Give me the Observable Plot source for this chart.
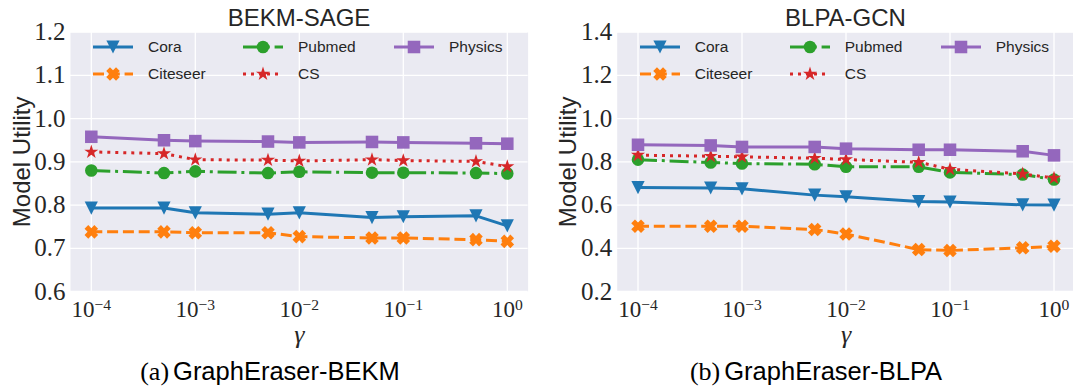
<!DOCTYPE html>
<html>
<head>
<meta charset="utf-8">
<script src="https://cdn.jsdelivr.net/npm/d3@7"></script>
<script src="https://cdn.jsdelivr.net/npm/@observablehq/plot@0.6"></script>
<style>
  html, body { margin: 0; padding: 0; background: #fff; }
  #fig { position: relative; width: 1073px; height: 390px; overflow: hidden; background: #fff; }
  .title { position: absolute; top: 3px; height: 30px; line-height: 30px; font-family: "Liberation Sans", Arial, sans-serif; font-size: 24px; color: #262626; text-align: center; white-space: nowrap; }
  .panel { position: absolute; top: 30px; }
  .caption { position: absolute; top: 356px; height: 30px; line-height: 30px; text-align: center; white-space: nowrap; color: #000; }
  .caption .ser { font-family: "Liberation Serif", serif; font-size: 26px; }
  .caption .san { font-family: "Liberation Sans", sans-serif; font-size: 25.5px; }
  .leg { position: absolute; height: 20px; display: flex; align-items: center; font-family: "Liberation Sans", sans-serif; font-size: 15.5px; color: #262626; white-space: nowrap; }
  .leg svg { display: block; margin-right: 15px; overflow: visible; }
</style>
</head>
<body>
<div id="fig"></div>
<script>
// ---------- data ----------
const gammas = [1e-4, 5e-4, 1e-3, 5e-3, 1e-2, 5e-2, 1e-1, 5e-1, 1];
const xTicks = [1e-4, 1e-3, 1e-2, 1e-1, 1];

const seriesNames = ["Cora", "Citeseer", "Pubmed", "CS", "Physics"];

// (a) BEKM-SAGE
const bekmCora     = [0.793, 0.793, 0.782, 0.779, 0.782, 0.771, 0.773, 0.775, 0.752];
const bekmCiteseer = [0.738, 0.738, 0.736, 0.736, 0.727, 0.724, 0.724, 0.720, 0.716];
const bekmPubmed   = [0.880, 0.874, 0.878, 0.874, 0.877, 0.875, 0.875, 0.874, 0.873];
const bekmCS       = [0.923, 0.919, 0.905, 0.904, 0.902, 0.905, 0.903, 0.901, 0.889];
const bekmPhysics  = [0.958, 0.950, 0.948, 0.947, 0.945, 0.946, 0.945, 0.943, 0.942];
const bekmYTicks   = [0.6, 0.7, 0.8, 0.9, 1.0, 1.1, 1.2];

// (b) BLPA-GCN
const blpaCora     = [0.681, 0.679, 0.675, 0.646, 0.638, 0.616, 0.614, 0.601, 0.600];
const blpaCiteseer = [0.502, 0.502, 0.502, 0.487, 0.466, 0.394, 0.390, 0.402, 0.409];
const blpaPubmed   = [0.810, 0.797, 0.792, 0.789, 0.777, 0.777, 0.751, 0.741, 0.718];
const blpaCS       = [0.831, 0.826, 0.823, 0.817, 0.811, 0.798, 0.766, 0.744, 0.725];
const blpaPhysics  = [0.879, 0.876, 0.869, 0.869, 0.861, 0.856, 0.856, 0.849, 0.830];
const blpaYTicks   = [0.2, 0.4, 0.6, 0.8, 1.0, 1.2, 1.4];

// ---------- styles ----------
const colors = ["#1f77b4", "#ff7f0e", "#2ca02c", "#d62728", "#9467bd"];
const dashes = [null, "11,4.8", "19,4.8,3,4.8", "3,5", null];
const SERIF = '"Liberation Serif", serif';
const SANS = '"Liberation Sans", sans-serif';

function rOf(size) { return Math.sqrt(size / Math.PI); }
const symTriDown = { draw(c, size) { const r = rOf(size); c.moveTo(0, r); c.lineTo(-r, -r); c.lineTo(r, -r); c.closePath(); } };
const symX = { draw(c, size) {
  const r = rOf(size), L = r * 1.05, w = r * 0.4;
  const pts = [[-w,-L],[w,-L],[w,-w],[L,-w],[L,w],[w,w],[w,L],[-w,L],[-w,w],[-L,w],[-L,-w],[-w,-w]];
  const a = Math.PI / 4, ca = Math.cos(a), sa = Math.sin(a);
  pts.forEach(([x, y], i) => { const X = x * ca - y * sa, Y = x * sa + y * ca; i ? c.lineTo(X, Y) : c.moveTo(X, Y); });
  c.closePath(); } };
const symCircle = { draw(c, size) { const r = rOf(size) * 0.95; c.moveTo(r, 0); c.arc(0, 0, r, 0, 2 * Math.PI); } };
const symStar = { draw(c, size) {
  const R = rOf(size) * 1.12, ri = R * 0.382;
  for (let i = 0; i < 10; i++) { const rr = i % 2 ? ri : R; const a = -Math.PI / 2 + i * Math.PI / 5;
    const X = rr * Math.cos(a), Y = rr * Math.sin(a); i ? c.lineTo(X, Y) : c.moveTo(X, Y); }
  c.closePath(); } };
const symSquare = { draw(c, size) { const h = rOf(size) * 0.95; c.rect(-h, -h, 2 * h, 2 * h); } };
const symbols = [symTriDown, symX, symCircle, symStar, symSquare];
const R = 6.6;

function fmtPow(d) { const e = Math.round(Math.log10(d)); return "10^" + (e < 0 ? "\u2212" + (-e) : String(e)); }

function makePanel(values, yDomain, yTicks, width, ml, mr) {
  const marks = [
    Plot.frame({fill: "#EAEAF2", stroke: null}),
    Plot.gridX({ticks: xTicks, stroke: "#fff", strokeOpacity: 1, strokeWidth: 1.3}),
    Plot.gridY({ticks: yTicks, stroke: "#fff", strokeOpacity: 1, strokeWidth: 1.3}),
    Plot.axisX({ticks: xTicks, tickFormat: fmtPow, tickSize: 0, tickPadding: 9, label: "γ", labelAnchor: "center", labelOffset: 51, labelArrow: "none", fill: "#262626"}),
    Plot.axisY({ticks: yTicks, tickFormat: d3.format(".1f"), tickSize: 0, tickPadding: 5, label: "Model Utility", labelAnchor: "center", labelOffset: 58, labelArrow: "none", fill: "#262626"})
  ];
  values.forEach((v, i) => {
    marks.push(Plot.line(v, {x: gammas, y: v, stroke: colors[i], strokeWidth: 3, strokeDasharray: dashes[i] || undefined, strokeLinecap: "butt"}));
    marks.push(Plot.dot(v, {x: gammas, y: v, symbol: symbols[i], r: R, fill: colors[i], stroke: "none"}));
  });
  const svg = Plot.plot({
    width, height: 315,
    marginLeft: ml, marginRight: mr, marginTop: 1.7, marginBottom: 54,
    style: {background: "transparent", overflow: "visible", maxWidth: "none", color: "#262626"},
    x: {type: "log", domain: [Math.pow(10, -4.2), Math.pow(10, 0.2)]},
    y: {domain: [yDomain[0], yDomain[1]]},
    marks
  });
  // typography of the axes (LaTeX-like serif tick labels, sans axis title)
  d3.select(svg).selectAll("text").each(function () {
    const s = this.textContent;
    const t = d3.select(this);
    if (s.startsWith("10^")) {
      const [b, e] = s.split("^");
      t.text(null);
      t.style("font-family", SERIF).style("font-size", "23px").style("font-style", "normal");
      t.append("tspan").text(b);
      t.append("tspan").attr("dy", "-0.45em").style("font-size", "15.6px").text(e);
    } else if (/^\d\.\d$/.test(s)) {
      t.style("font-family", SERIF).style("font-size", "25px").style("font-style", "normal");
    } else if (s === "γ") {
      t.style("font-family", SERIF).style("font-size", "26px").style("font-style", "italic");
    } else if (s === "Model Utility") {
      t.style("font-family", SANS).style("font-size", "24px").style("font-style", "normal");
    }
  });
  return svg;
}

const fig = document.getElementById("fig");

function addDiv(cls, css, html) {
  const d = document.createElement("div");
  d.className = cls;
  Object.assign(d.style, css);
  d.innerHTML = html;
  fig.appendChild(d);
  return d;
}

function addLegend(plotLeft) {
  const colX = [23, 173, 324];
  const rowY = [46.7, 74];
  seriesNames.forEach((name, i) => {
    const col = Math.floor(i / 2), row = i % 2;
    const d = addDiv("leg", {left: (plotLeft + colX[col]) + "px", top: (rowY[row] - 10) + "px"}, "");
    const s = d3.create("svg").attr("width", 40).attr("height", 20);
    s.append("line").attr("x1", 0).attr("x2", 40).attr("y1", 10).attr("y2", 10)
      .attr("stroke", colors[i]).attr("stroke-width", 3).attr("stroke-dasharray", dashes[i]);
    s.append("path").attr("transform", "translate(20,10)")
      .attr("d", d3.symbol(symbols[i], Math.PI * R * R)()).attr("fill", colors[i]);
    d.appendChild(s.node());
    const sp = document.createElement("span");
    sp.textContent = name;
    d.appendChild(sp);
  });
}

// Panel (a)
const plotLeftA = 70;
addDiv("title", {left: "0px", width: "598px"}, "BEKM-SAGE");
const svgA = makePanel([bekmCora, bekmCiteseer, bekmPubmed, bekmCS, bekmPhysics], [0.6, 1.2], bekmYTicks, 540, 70, 12.4);
addDiv("panel", {left: "0px"}, "").appendChild(svgA);
addLegend(plotLeftA);
addDiv("caption", {left: "0px", width: "540px"}, '<span class="ser">(a)</span> <span class="san">GraphEraser-BEKM</span>');

// Panel (b)
const plotLeftB = 616.7;
addDiv("title", {left: "540px", width: "611px"}, "BLPA-GCN");
const svgB = makePanel([blpaCora, blpaCiteseer, blpaPubmed, blpaCS, blpaPhysics], [0.2, 1.4], blpaYTicks, 535, 76.7, 0.7);
addDiv("panel", {left: "540px"}, "").appendChild(svgB);
addLegend(plotLeftB);
addDiv("caption", {left: "540px", width: "552px"}, '<span class="ser">(b)</span> <span class="san">GraphEraser-BLPA</span>');
</script>
</body>
</html>
